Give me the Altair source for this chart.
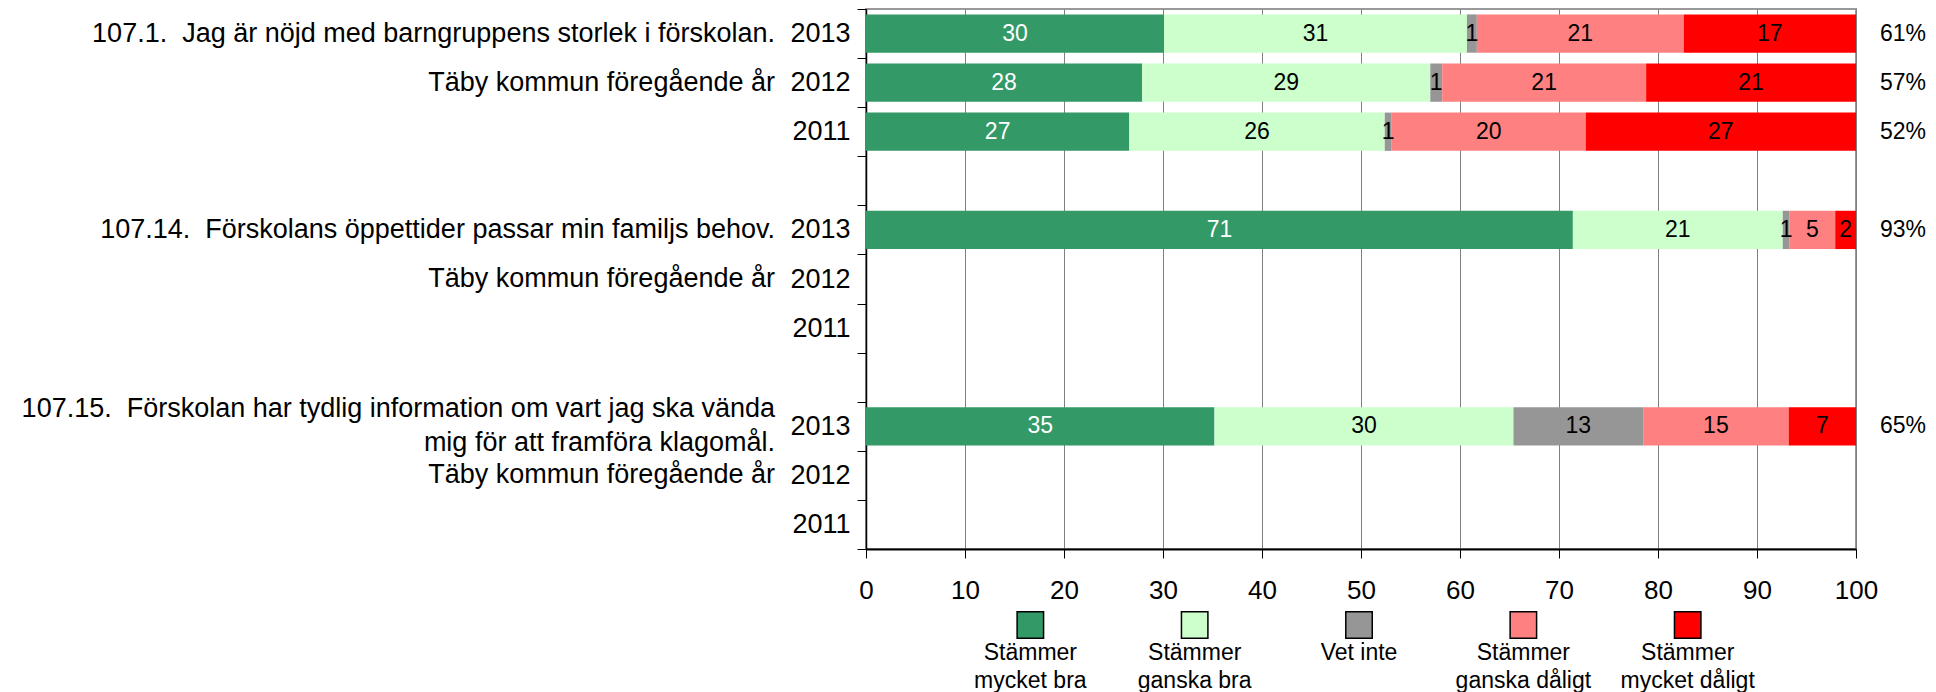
import altair as alt
import pandas as pd

FONT = "Liberation Sans"
SP2 = "\u00a0\u00a0"

# ---- data ----
questions = [
    "107.1." + SP2 + "Jag är nöjd med barngruppens storlek i förskolan.",
    "107.14." + SP2 + "Förskolans öppettider passar min familjs behov.",
    "107.15." + SP2 + "Förskolan har tydlig information om vart jag ska vända\nmig för att framföra klagomål.",
]
years = ["2013", "2012", "2011"]
prev_label = "Täby kommun föregående år"

categories = ["Stämmer mycket bra", "Stämmer ganska bra", "Vet inte",
              "Stämmer ganska dåligt", "Stämmer mycket dåligt"]
legend_labels = ["Stämmer\nmycket bra", "Stämmer\nganska bra", "Vet inte",
                 "Stämmer\nganska dåligt", "Stämmer\nmycket dåligt"]
colors = ["#339966", "#CCFFCC", "#969696", "#FF8080", "#FF0000"]
text_colors = ["white", "black", "black", "black", "black"]

# segment shares (percent) per question / year
q1_2013 = [30.1, 30.6, 1.0, 20.9, 17.4]
q1_2012 = [27.9, 29.1, 1.2, 20.6, 21.2]
q1_2011 = [26.6, 25.8, 0.7, 19.6, 27.3]
q14_2013 = [71.4, 21.2, 0.7, 4.6, 2.1]
q15_2013 = [35.2, 30.2, 13.1, 14.7, 6.8]

series = {
    (0, "2013"): (q1_2013, "61%"),
    (0, "2012"): (q1_2012, "57%"),
    (0, "2011"): (q1_2011, "52%"),
    (1, "2013"): (q14_2013, "93%"),
    (2, "2013"): (q15_2013, "65%"),
}

# ---- build tables ----
row_domain = []
for qi in range(len(questions)):
    for y in years:
        row_domain.append(f"q{qi}|{y}")
    if qi < len(questions) - 1:
        row_domain.append(f"g{qi}|")

bar_rows, pct_rows, q_rows = [], [], []
for (qi, y), (vals, pct) in series.items():
    key = f"q{qi}|{y}"
    start = 0.0
    for ci, v in enumerate(vals):
        bar_rows.append(dict(row=key, cat=categories[ci], x0=start, x1=start + v,
                             mid=start + v / 2, label=str(int(round(v))),
                             tcolor=text_colors[ci]))
        start += v
    pct_rows.append(dict(row=key, pct=pct))

for qi, q in enumerate(questions):
    q_rows.append(dict(row=f"q{qi}|2013", qtext=q, lines=q.count("\n") + 1))
    q_rows.append(dict(row=f"q{qi}|2012", qtext=prev_label, lines=1))

bars_df = pd.DataFrame(bar_rows)
pct_df = pd.DataFrame(pct_rows)
q_df = pd.DataFrame(q_rows)
q_single = q_df[q_df["lines"] == 1]
q_multi = q_df[q_df["lines"] == 2]
leg_df = pd.DataFrame(dict(cat=categories, ltext=legend_labels,
                           lx=[(i + 1) * 16.6 for i in range(len(categories))]))

# ---- encodings ----
y_enc = alt.Y("row:N", sort=row_domain,
              scale=alt.Scale(domain=row_domain, paddingInner=0, paddingOuter=0),
              axis=alt.Axis(labelExpr="split(datum.value, '|')[1]", tickBand="extent",
                            tickSize=9, tickColor="black", domainColor="black",
                            domainWidth=1.5, labelFontSize=27, labelPadding=7,
                            labelColor="black", labelFont=FONT, title=None, grid=False))
y_plain = alt.Y("row:N", sort=row_domain)
x_scale = alt.Scale(domain=[0, 100], nice=False, zero=True)
x_axis = alt.Axis(values=list(range(0, 101, 10)), grid=True, gridColor="#808080",
                  gridWidth=1, tickSize=9, tickColor="black", domainColor="black",
                  domainWidth=2, labelFontSize=26, labelPadding=19, labelFlush=False,
                  labelColor="black", labelFont=FONT, title=None)
color_enc = alt.Color("cat:N", scale=alt.Scale(domain=categories, range=colors), legend=None)

bars = alt.Chart(bars_df).mark_bar(height={"band": 0.78}).encode(
    y=y_enc,
    x=alt.X("x0:Q", scale=x_scale, axis=x_axis),
    x2="x1:Q",
    color=color_enc,
)

bar_text = alt.Chart(bars_df).mark_text(font=FONT, fontSize=23, baseline="middle").encode(
    y=y_plain,
    x=alt.X("mid:Q"),
    text="label:N",
    color=alt.Color("tcolor:N", scale=None),
)

pct_text = alt.Chart(pct_df).mark_text(font=FONT, fontSize=23, align="left", dx=24,
                                       baseline="middle", color="black").encode(
    y=y_plain,
    x=alt.datum(100),
    text="pct:N",
)

q_text1 = alt.Chart(q_single).mark_text(font=FONT, fontSize=27, align="right",
                                        baseline="middle", color="black").encode(
    y=y_plain,
    x=alt.value(-91),
    text="qtext:N",
)

q_text2 = alt.Chart(q_multi).mark_text(font=FONT, fontSize=27, align="right", baseline="middle",
                                       lineBreak="\n", lineHeight=34, dy=-17,
                                       color="black").encode(
    y=y_plain,
    x=alt.value(-91),
    text="qtext:N",
)

leg_sq = alt.Chart(leg_df).mark_square(size=700, stroke="black", strokeWidth=1.5,
                                       opacity=1, filled=True).encode(
    x=alt.X("lx:Q"),
    y=alt.value(616),
    color=color_enc,
)

leg_text = alt.Chart(leg_df).mark_text(font=FONT, fontSize=23, baseline="top", align="center",
                                       lineBreak="\n", lineHeight=28, color="black").encode(
    x=alt.X("lx:Q"),
    y=alt.value(633),
    text="ltext:N",
)

chart = alt.layer(bars, bar_text, pct_text, q_text1, q_text2, leg_sq, leg_text).properties(
    width=990, height=540, autosize="none",
    padding={"left": 858, "top": 1, "right": 72, "bottom": 143},
).configure_view(stroke="#999999", strokeWidth=2)

chart.save("out.html", embed_options={"renderer": "svg", "actions": False})
